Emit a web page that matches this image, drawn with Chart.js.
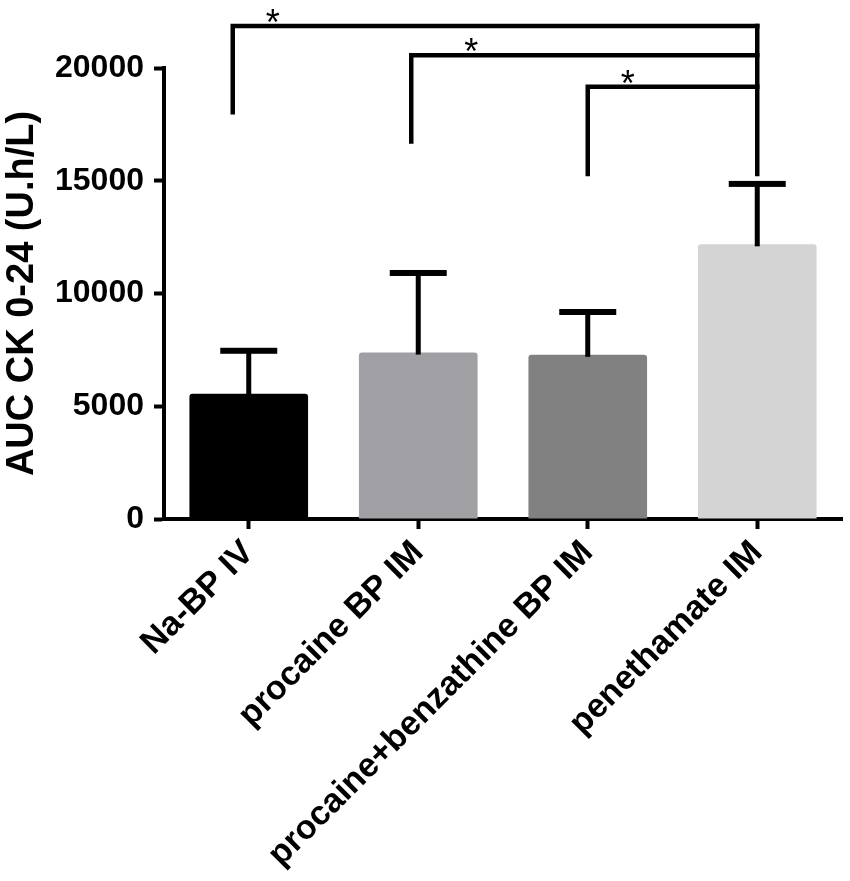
<!DOCTYPE html>
<html>
<head>
<meta charset="utf-8">
<script src="https://cdn.jsdelivr.net/npm/chart.js@4.4.1/dist/chart.umd.min.js"></script>
<style>
    body { margin: 0; background: #fff; }
    #wrap { width: 850px; height: 881px; }
</style>
</head>
<body>
<div id="wrap"><canvas id="aucChart" width="850" height="881"></canvas></div>
<script>
// Values
const groups = ['Na-BP IV', 'procaine BP IM', 'procaine+benzathine BP IM', 'penethamate IM'];
const means = [5550, 7380, 7280, 12180];
const sds = [1910, 3530, 1900, 2680];
const barColors = ['#000000', '#a09fa3', '#818181', '#d4d4d4'];
const yTicks = [0, 5000, 10000, 15000, 20000];

// Significance brackets: each group compared against penethamate IM
const bracketFrom = [0, 1, 2];
const bracketTo = [3, 3, 3];
const bracketLevel = [21860, 20560, 19170];
const bracketDrop = [17940, 16640, 15200];
const bracketMarks = ['*', '*', '*'];

const fontFamily = '"Liberation Sans", Arial, Helvetica, sans-serif';

// Upper SD whiskers, GraphPad style
const errorBars = {
    id: 'errorBars',
    afterDatasetsDraw(chart) {
        const ctx = chart.ctx;
        const y = chart.scales.y;
        const meta = chart.getDatasetMeta(0);
        ctx.save();
        ctx.fillStyle = '#000';
        meta.data.forEach((bar, i) => {
            const top = y.getPixelForValue(means[i]);
            const cap = y.getPixelForValue(means[i] + sds[i]);
            ctx.fillRect(bar.x - 2.5, cap, 5, top - cap + 2);
            ctx.fillRect(bar.x - 28.5, cap - 3, 57, 6);
        });
        ctx.restore();
    }
};

// Comparison brackets with stars above the plot
const brackets = {
    id: 'brackets',
    afterDraw(chart, args, opts) {
        const ctx = chart.ctx;
        const x = chart.scales.x;
        const y = chart.scales.y;
        ctx.save();
        ctx.strokeStyle = '#000';
        ctx.fillStyle = '#000';
        ctx.lineWidth = 4.5;
        ctx.lineJoin = 'miter';
        ctx.lineCap = 'butt';
        let rightX = 0;
        bracketFrom.forEach((from, i) => {
            const lx = x.getPixelForValue(from) + opts.shift[i];
            rightX = x.getPixelForValue(bracketTo[i]);
            const ly = y.getPixelForValue(bracketLevel[i]);
            ctx.beginPath();
            ctx.moveTo(lx, y.getPixelForValue(bracketDrop[i]));
            ctx.lineTo(lx, ly);
            ctx.lineTo(rightX + 2.25, ly);
            ctx.stroke();
            ctx.font = 'normal 36px ' + fontFamily;
            ctx.textAlign = 'center';
            ctx.textBaseline = 'alphabetic';
            ctx.fillText(bracketMarks[i], lx + opts.starShift[i], ly + 9);
        });
        // shared vertical above the last bar
        ctx.beginPath();
        ctx.moveTo(rightX, y.getPixelForValue(Math.max(...bracketLevel)) - 2.25);
        ctx.lineTo(rightX, y.getPixelForValue(Math.min(...bracketDrop)));
        ctx.stroke();
        ctx.restore();
    }
};

function createChart() {
    const ctx = document.getElementById('aucChart').getContext('2d');
    new Chart(ctx, {
        type: 'bar',
        data: {
            labels: groups,
            datasets: [{
                data: means,
                backgroundColor: barColors,
                borderWidth: 0,
                borderRadius: 3,
                borderSkipped: 'start',
                categoryPercentage: 1,
                barPercentage: 0.7
            }]
        },
        options: {
            responsive: false,
            animation: false,
            devicePixelRatio: 1,
            layout: { padding: { top: 68, right: 8, left: 0, bottom: 0 } },
            plugins: {
                legend: { display: false },
                tooltip: { enabled: false },
                brackets: { shift: [-16, -7, 0], starShift: [40, 60, 40] }
            },
            scales: {
                x: {
                    offset: true,
                    afterFit: (scale) => { scale.height = 362; },
                    border: { display: true, color: '#000', width: 4 },
                    grid: {
                        offset: false,
                        drawOnChartArea: false,
                        drawTicks: true,
                        tickLength: 10,
                        tickWidth: 4,
                        tickColor: '#000'
                    },
                    ticks: {
                        color: '#000',
                        minRotation: 45,
                        maxRotation: 45,
                        autoSkip: false,
                        padding: 4,
                        font: { family: fontFamily, size: 34, weight: 'bold' }
                    }
                },
                y: {
                    min: 0,
                    max: 20000,
                    afterFit: (scale) => { scale.width = 164; },
                    afterBuildTicks: (scale) => { scale.ticks = yTicks.map(v => ({ value: v })); },
                    border: { display: true, color: '#000', width: 4 },
                    grid: {
                        drawOnChartArea: false,
                        drawTicks: true,
                        tickLength: 10,
                        tickWidth: 4,
                        tickColor: '#000'
                    },
                    ticks: {
                        color: '#000',
                        padding: 10,
                        callback: (value) => String(value),
                        font: { family: fontFamily, size: 32, weight: 'bold' }
                    },
                    title: {
                        display: true,
                        text: 'AUC CK 0-24 (U.h/L)',
                        color: '#000',
                        padding: { top: 0, bottom: 0 },
                        font: { family: fontFamily, size: 38, weight: 'bold' }
                    }
                }
            }
        },
        plugins: [errorBars, brackets]
    });
}

window.onload = createChart;
</script>
</body>
</html>
